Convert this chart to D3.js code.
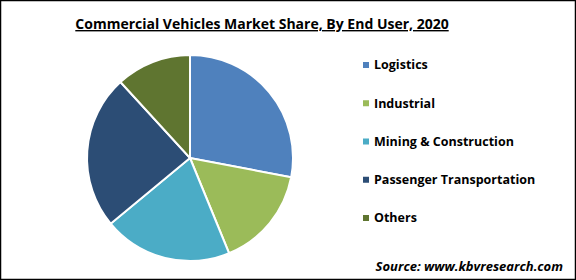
<!DOCTYPE html>
<html>
<head>
<meta charset="utf-8">
<script src="https://cdn.jsdelivr.net/npm/d3@7"></script>
<style>
  body { margin: 0; background: #fff; }
  svg text { font-family: "Open Sans", "Liberation Sans", sans-serif; }
</style>
</head>
<body>
<div id="chart"></div>
<script>
// End user shares (percent)
const categories = ["Logistics", "Industrial", "Mining & Construction", "Passenger Transportation", "Others"];
const shares = [28.0, 15.8, 20.2, 24.2, 11.8];
const colors = ["#4f81bd", "#9bbb59", "#4bacc6", "#2c4d75", "#5f7530"];

const width = 576, height = 280;

const svg = d3.select("#chart")
    .append("svg")
    .attr("width", width)
    .attr("height", height);

// outer frame
svg.append("rect")
    .attr("x", 0.5).attr("y", 0.5)
    .attr("width", width - 1).attr("height", height - 1)
    .attr("fill", "#fff")
    .attr("stroke", "#000")
    .attr("stroke-width", 1.5);

svg.append("text")
    .attr("x", 262)
    .attr("y", 29)
    .attr("text-anchor", "middle")
    .attr("font-size", 14)
    .attr("font-weight", "bold")
    .attr("text-decoration", "underline")
    .text("Commercial Vehicles Market Share, By End User, 2020");

const data = categories.map((c, i) => ({ name: c, value: shares[i] }));

const pie = d3.pie().sort(null).value(d => d.value);
const arc = d3.arc().innerRadius(0).outerRadius(103);

const g = svg.append("g")
    .attr("transform", "translate(190,158)");

g.selectAll("path")
    .data(pie(data))
    .enter()
    .append("path")
    .attr("d", arc)
    .attr("fill", (d, i) => colors[i])
    .attr("stroke", "#fff")
    .attr("stroke-width", 2);

// legend
const y = d3.scalePoint()
    .domain(categories)
    .range([65, 218]);

const legend = svg.append("g");

legend.selectAll("rect")
    .data(categories)
    .enter()
    .append("rect")
    .attr("x", 363)
    .attr("y", d => y(d) - 3)
    .attr("width", 6)
    .attr("height", 6)
    .attr("fill", (d, i) => colors[i]);

legend.selectAll("text")
    .data(categories)
    .enter()
    .append("text")
    .attr("x", 374)
    .attr("y", d => y(d))
    .attr("dy", "0.35em")
    .attr("font-size", 12.5)
    .attr("font-weight", "bold")
    .text(d => d);

svg.append("text")
    .attr("x", 563)
    .attr("y", 271)
    .attr("text-anchor", "end")
    .attr("font-size", 13)
    .attr("font-weight", "bold")
    .attr("font-style", "italic")
    .text("Source: www.kbvresearch.com");
</script>
</body>
</html>
